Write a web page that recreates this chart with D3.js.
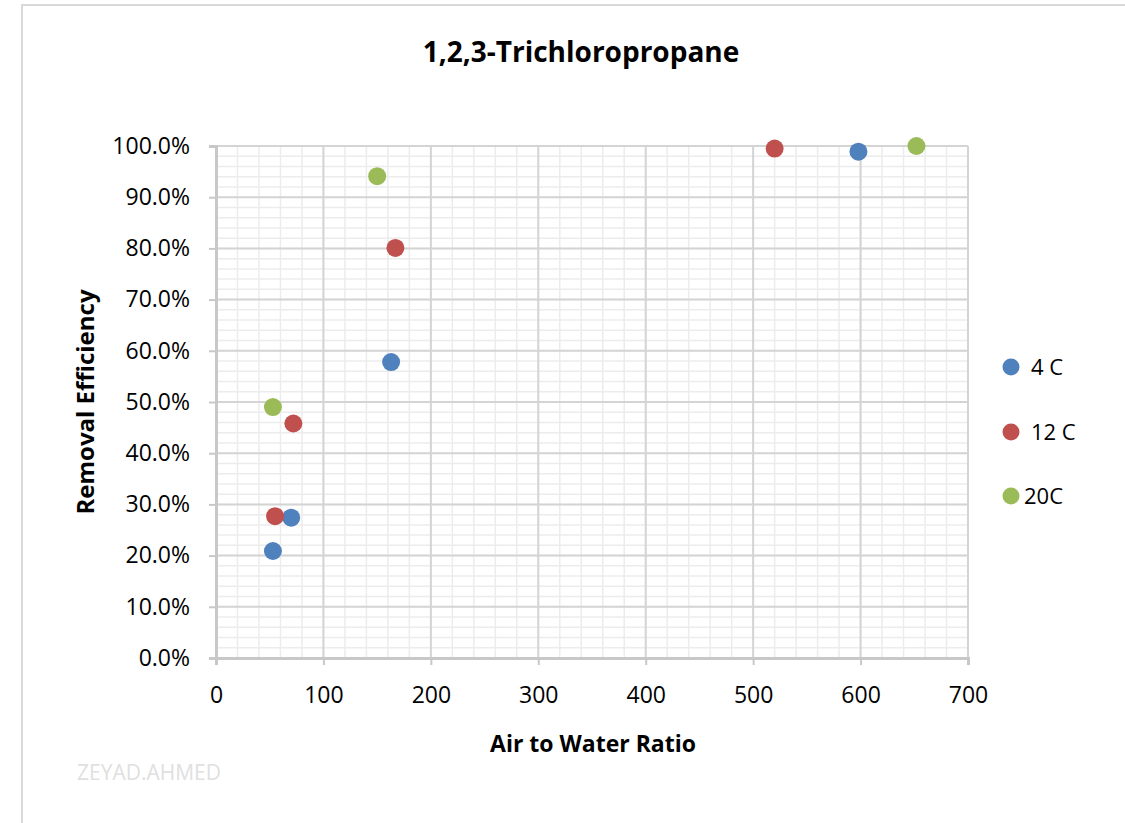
<!DOCTYPE html>
<html>
<head>
<meta charset="utf-8">
<script src="https://cdn.jsdelivr.net/npm/d3@7"></script>
<style>
  body { margin: 0; background: #fff; }
  svg { display: block; font-family: "Open Sans", "Liberation Sans", sans-serif; }
</style>
</head>
<body>
<div id="chart"></div>
<script>
// series data: air to water ratio and removal efficiency
const seriesNames = ["4 C", "12 C", "20C"];
const seriesColors = ["#4f81bd", "#c0504d", "#9bbb59"];
const ratio4C = [53, 70, 163, 598];
const eff4C = [0.209, 0.274, 0.578, 0.989];
const ratio12C = [55, 72, 167, 520];
const eff12C = [0.277, 0.458, 0.801, 0.995];
const ratio20C = [53, 150, 652];
const eff20C = [0.490, 0.941, 1.0];
const xTicks = [0, 100, 200, 300, 400, 500, 600, 700];
const yTicks = [0, 0.1, 0.2, 0.3, 0.4, 0.5, 0.6, 0.7, 0.8, 0.9, 1.0];

const width = 1125, height = 823;
const margin = {left: 216, right: 157, top: 146, bottom: 165};

let svg = d3.select("#chart").append("svg")
    .attr("width", width)
    .attr("height", height);

// chart frame
svg.append("rect")
    .attr("x", 22).attr("y", 5)
    .attr("width", width).attr("height", height)
    .attr("fill", "#fff")
    .attr("stroke", "#d9d9d9")
    .attr("stroke-width", 2);

let x = d3.scaleLinear().domain([0, 700]).range([margin.left, width - margin.right]);
let y = d3.scaleLinear().domain([0, 1]).range([height - margin.bottom, margin.top]);

// minor gridlines
svg.append("g").selectAll("line")
    .data(d3.range(0, 701, 20))
    .enter().append("line")
    .attr("x1", d => x(d)).attr("x2", d => x(d))
    .attr("y1", y(0)).attr("y2", y(1))
    .attr("stroke", "#ececec").attr("stroke-width", 1.5);
svg.append("g").selectAll("line")
    .data(d3.range(0, 51).map(d => d * 0.02))
    .enter().append("line")
    .attr("x1", x(0)).attr("x2", x(700))
    .attr("y1", d => y(d)).attr("y2", d => y(d))
    .attr("stroke", "#ececec").attr("stroke-width", 1.5);

// major gridlines
svg.append("g").selectAll("line")
    .data(xTicks)
    .enter().append("line")
    .attr("x1", d => x(d)).attr("x2", d => x(d))
    .attr("y1", y(0)).attr("y2", y(1))
    .attr("stroke", "#d4d4d4").attr("stroke-width", 2);
svg.append("g").selectAll("line")
    .data(yTicks)
    .enter().append("line")
    .attr("x1", x(0)).attr("x2", x(700))
    .attr("y1", d => y(d)).attr("y2", d => y(d))
    .attr("stroke", "#d4d4d4").attr("stroke-width", 2);

// axes
let xAxis = svg.append("g")
    .attr("transform", `translate(0, ${y(0)})`)
    .call(d3.axisBottom(x).tickValues(xTicks).tickSize(7).tickPadding(22));
let yAxis = svg.append("g")
    .attr("transform", `translate(${x(0)}, 0)`)
    .call(d3.axisLeft(y).tickValues(yTicks).tickSize(7).tickPadding(19).tickFormat(d3.format(".1%")));

[xAxis, yAxis].forEach(function(a) {
    a.select(".domain").attr("stroke", "#c8c8c8").attr("stroke-width", 3);
    a.selectAll(".tick line").attr("stroke", "#c8c8c8").attr("stroke-width", 2);
    a.selectAll("text")
        .style("font-size", "23px")
        .style("font-family", "'Open Sans', sans-serif")
        .attr("fill", "#000");
});

// points
const allSeries = [
    {name: seriesNames[0], xs: ratio4C, ys: eff4C},
    {name: seriesNames[1], xs: ratio12C, ys: eff12C},
    {name: seriesNames[2], xs: ratio20C, ys: eff20C}
];
allSeries.forEach(function(s, i) {
    svg.append("g").selectAll("circle")
        .data(s.xs.map((v, j) => [v, s.ys[j]]))
        .enter().append("circle")
        .attr("cx", d => x(d[0]))
        .attr("cy", d => y(d[1]))
        .attr("r", 9)
        .attr("fill", seriesColors[i]);
});

// title and axis titles
svg.append("text")
    .attr("x", 581).attr("y", 62)
    .attr("text-anchor", "middle")
    .style("font-size", "28px").style("font-weight", "bold")
    .text("1,2,3-Trichloropropane");

svg.append("text")
    .attr("x", 593).attr("y", 752)
    .attr("text-anchor", "middle")
    .style("font-size", "23px").style("font-weight", "bold")
    .text("Air to Water Ratio");

svg.append("text")
    .attr("transform", `translate(94, 402) rotate(-90)`)
    .attr("text-anchor", "middle")
    .style("font-size", "24px").style("font-weight", "bold")
    .text("Removal Efficiency");

// legend
const legendY = [367, 432, 496];
let legend = svg.append("g");
legend.selectAll("circle")
    .data(seriesNames)
    .enter().append("circle")
    .attr("cx", 1011)
    .attr("cy", (d, i) => legendY[i])
    .attr("r", 8.5)
    .attr("fill", (d, i) => seriesColors[i]);
legend.selectAll("text")
    .data(seriesNames)
    .enter().append("text")
    .attr("x", (d, i) => i == 2 ? 1024 : 1031)
    .attr("y", (d, i) => legendY[i] + 8)
    .style("font-size", "22px")
    .text(d => d);

// watermark
svg.append("text")
    .attr("x", 77).attr("y", 780)
    .style("font-size", "21px")
    .attr("fill", "#e0e0e0")
    .text("ZEYAD.AHMED");
</script>
</body>
</html>
